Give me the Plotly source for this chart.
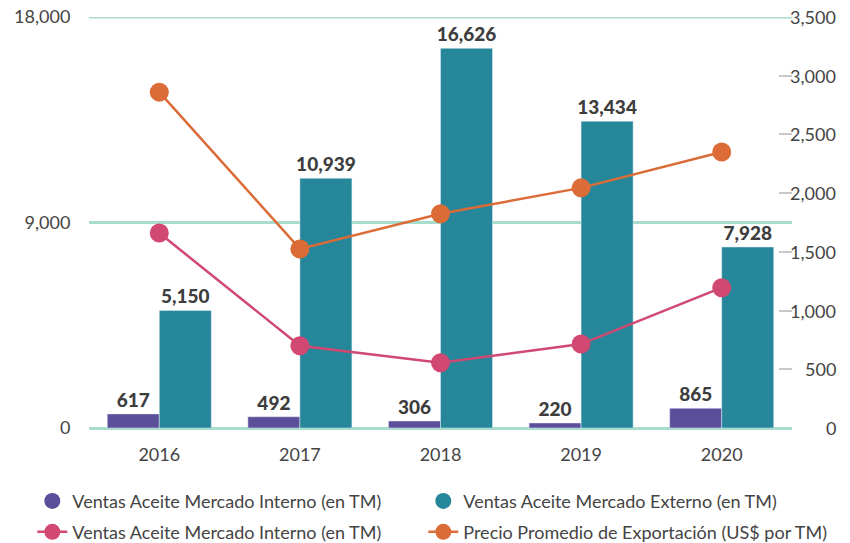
import plotly.graph_objects as go

years = ["2016", "2017", "2018", "2019", "2020"]
interno = [617, 492, 306, 220, 865]
externo = [5150, 10939, 16626, 13434, 7928]
interno_line = [1660, 700, 555, 715, 1195]
precio = [2860, 1525, 1825, 2045, 2350]

left_ticks = [0, 9000, 18000]
right_ticks = [0, 500, 1000, 1500, 2000, 2500, 3000, 3500]

PURPLE = "#5b4f9a"
TEAL = "#26869a"
PINK = "#d14873"
ORANGE = "#db6c37"
GRID = "#a8dccc"
TXT = "#444444"

label_font = dict(family="Lato", size=19, color="#3d3d3d", weight=900)
tick_font = dict(family="Lato", size=18, color=TXT)
legend_font = dict(family="Lato", size=18, color=TXT)

fig = go.Figure()
fig.add_trace(go.Bar(x=years, y=interno, marker_color=PURPLE, showlegend=False,
                     text=[f"{v:,}" for v in interno], textposition="outside",
                     constraintext="none", textfont=label_font, cliponaxis=False))
fig.add_trace(go.Bar(x=years, y=externo, marker_color=TEAL, showlegend=False,
                     text=[f"{v:,}" for v in externo], textposition="outside",
                     constraintext="none", textfont=label_font, cliponaxis=False))
fig.add_trace(go.Scatter(x=years, y=interno_line, yaxis="y2", mode="lines+markers",
                         line=dict(color=PINK, width=2.5), marker=dict(size=19, color=PINK),
                         name="Ventas Aceite Mercado Interno (en TM)", legend="legend3",
                         cliponaxis=False))
fig.add_trace(go.Scatter(x=years, y=precio, yaxis="y2", mode="lines+markers",
                         line=dict(color=ORANGE, width=2.5), marker=dict(size=19, color=ORANGE),
                         name="Precio Promedio de Exportación (US$ por TM)", legend="legend4",
                         cliponaxis=False))
# legend-only markers for the bars
fig.add_trace(go.Scatter(x=[None], y=[None], mode="markers", marker=dict(size=16, color=PURPLE),
                         name="Ventas Aceite Mercado Interno (en TM)", legend="legend"))
fig.add_trace(go.Scatter(x=[None], y=[None], mode="markers", marker=dict(size=16, color=TEAL),
                         name="Ventas Aceite Mercado Externo (en TM)", legend="legend2"))

W, H = 850, 543


def leg(x, y):
    return dict(orientation="h", xref="container", yref="container", x=x, y=y,
                xanchor="left", yanchor="middle", font=legend_font,
                bgcolor="rgba(0,0,0,0)")


fig.update_layout(
    width=W, height=H,
    margin=dict(l=89, r=58, t=17, b=115, autoexpand=False),
    plot_bgcolor="white", paper_bgcolor="white",
    barmode="group", bargap=0.26, bargroupgap=0,
    xaxis=dict(tickfont=tick_font, showgrid=False, zeroline=False,
               ticks="outside", ticklen=10, tickcolor="rgba(0,0,0,0)", showline=False),
    yaxis=dict(range=[0, 18000], tickvals=left_ticks, tickformat=",", tickfont=tick_font,
               showgrid=True, gridcolor=GRID, gridwidth=3,
               zeroline=True, zerolinecolor=GRID, zerolinewidth=3,
               ticks="outside", ticklen=14, tickcolor="rgba(0,0,0,0)"),
    yaxis2=dict(range=[0, 3500], tickvals=right_ticks, overlaying="y", side="right",
                anchor="x", showgrid=False, zeroline=False, showticklabels=False,
                ticks="inside", ticklen=13, tickcolor="#c8c8c8", tickwidth=2, showline=False),
    legend=leg(0.038, 0.077),
    legend2=leg(0.498, 0.077),
    legend3=leg(0.038, 0.020),
    legend4=leg(0.498, 0.020),
)

# top gridline (at the axis edge plotly skips it)
fig.add_shape(type="line", xref="paper", x0=0, x1=1, yref="y", y0=left_ticks[-1], y1=left_ticks[-1],
              line=dict(color=GRID, width=3), layer="below")

# right-aligned labels for the right axis
for v in right_ticks:
    fig.add_annotation(xref="paper", x=1, yref="y2", y=v, text=f"{v:,}", showarrow=False,
                       xanchor="right", yanchor="middle", xshift=46, font=tick_font)

fig.write_html("out.html", config={"displayModeBar": False},
               post_script="document.body.style.margin='0px';")
